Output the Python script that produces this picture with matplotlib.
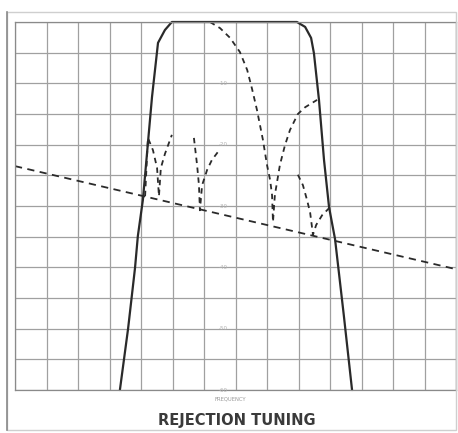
import matplotlib.pyplot as plt
from matplotlib.patches import Rectangle

# x in grid divisions (0..14), y in dB (0..-60, 5 dB per division)
pass_x = [3.33, 3.59, 3.81, 3.90, 4.06, 4.35, 4.54, 4.76, 4.98,
          8.95, 9.21, 9.40, 9.49, 9.65, 9.81, 9.97, 10.16, 10.44, 10.70]
pass_db = [-60.0, -50.0, -40.1, -34.9, -29.0, -12.2, -3.4, -1.3, 0.0,
           0.0, -0.8, -2.6, -5.1, -12.7, -22.5, -30.2, -35.4, -47.9, -60.0]

slope_x = [0.0, 14.0]
slope_db = [-23.5, -40.3]

notch1_x = [4.13, 4.22, 4.38, 4.51, 4.57, 4.63, 4.76, 4.98]
notch1_db = [-28.4, -18.9, -20.9, -23.8, -28.4, -23.8, -21.5, -18.4]

notch2_x = [5.68, 5.78, 5.84, 5.87, 5.94, 6.10, 6.25, 6.44]
notch2_db = [-18.9, -23.3, -26.6, -30.7, -26.6, -24.1, -22.5, -21.2]

arch_x = [6.19, 6.51, 6.83, 7.14, 7.37, 7.52, 7.68, 7.87, 8.00, 8.10, 8.16, 8.19,
          8.25, 8.41, 8.57, 8.73, 8.98, 9.21, 9.59]
arch_db = [0.0, -1.0, -2.6, -4.9, -7.8, -10.8, -14.3, -19.2, -23.3, -25.8, -28.2, -32.6,
           -28.2, -23.3, -20.1, -17.6, -15.0, -13.9, -12.7]

notch3_x = [8.98, 9.14, 9.27, 9.37, 9.46, 9.56, 9.75, 10.0]
notch3_db = [-24.9, -26.6, -29.0, -31.1, -34.7, -33.1, -31.5, -30.2]

db_labels = [-10, -20, -30, -40, -50, -60]

fig = plt.figure(figsize=(4.58, 4.33), dpi=100)
fig.patch.set_facecolor('white')
ax = fig.add_axes([15 / 458, 43 / 433, 441 / 458, 368 / 433])

ax.set_xlim(0, 14)
ax.set_ylim(-60, 0)
ax.set_xticks(range(15))
ax.set_yticks(range(-60, 1, 5))
ax.grid(True, color='#a0a0a0', lw=0.9)
ax.tick_params(length=0, labelbottom=False, labelleft=False)
for s in ax.spines.values():
    s.set_color('#8a8a8a')
    s.set_linewidth(0.9)

ink = '#2a2a2a'
ax.plot(pass_x, pass_db, color=ink, lw=1.6, solid_capstyle='round', clip_on=False)
ax.plot(slope_x, slope_db, color=ink, lw=1.3, ls=(0, (4, 3)))
for xs, ys in [(notch1_x, notch1_db), (notch2_x, notch2_db),
               (arch_x, arch_db), (notch3_x, notch3_db)]:
    ax.plot(xs, ys, color=ink, lw=1.3, ls=(0, (3, 2.5)), clip_on=False)

for v in db_labels:
    ax.text(6.6, v, str(v), fontsize=4, color='#b0b0b0', ha='center', va='center')

fig.text(230 / 458, 1 - 399 / 433, 'FREQUENCY', fontsize=3.8, color='#999999',
         ha='center', va='center')
fig.text(237 / 458, 1 - 420 / 433, 'REJECTION TUNING', fontsize=10.5, color='#3a3a3a',
         ha='center', va='center', family='DejaVu Sans', fontweight='bold')

# scanned page frame
fig.patches.append(Rectangle((7 / 458, 3 / 433), 449 / 458, 418 / 433,
                             transform=fig.transFigure, fill=False,
                             edgecolor='#cfcfcf', lw=1.0))
fig.lines.append(plt.Line2D([7 / 458, 7 / 458], [3 / 433, 421 / 433],
                            transform=fig.transFigure, color='#8a8a8a', lw=1.2))

fig.savefig('out.png', dpi=100)
